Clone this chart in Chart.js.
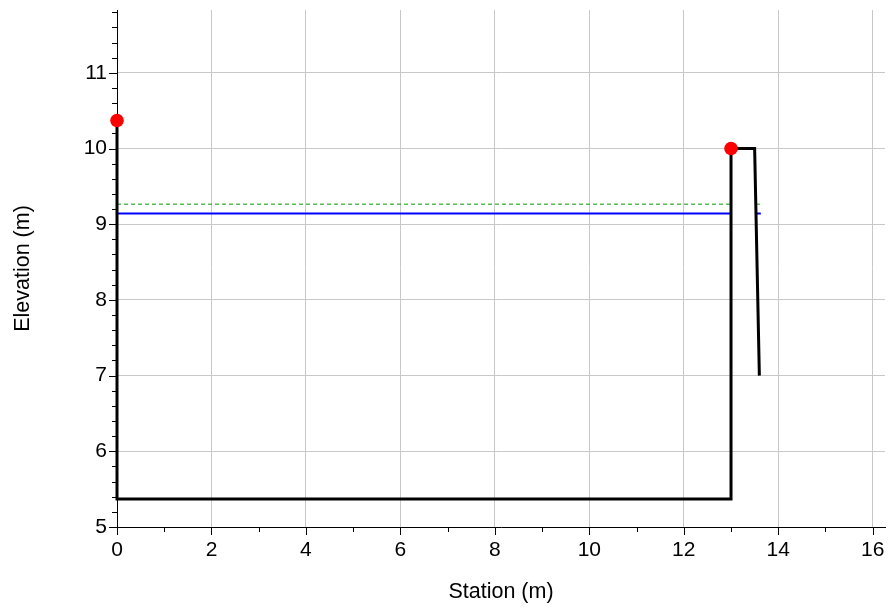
<!DOCTYPE html>
<html>
<head>
<meta charset="utf-8">
<script src="https://cdn.jsdelivr.net/npm/chart.js@4/dist/chart.umd.min.js"></script>
<style>
  html, body { margin: 0; padding: 0; background: #ffffff; }
  #wrap { width: 888px; height: 609px; }
</style>
</head>
<body>
<div id="wrap"><canvas id="c" width="888" height="609"></canvas></div>
<script>
// ---- Data ----
const groundStation = [0, 0, 13, 13, 13.5, 13.6];
const groundElev    = [10.37, 5.37, 5.37, 10.0, 10.0, 7.0];
const bankStation   = [0, 13];
const bankElev      = [10.37, 10.0];
const wsStation     = [0, 13, null, 13.53, 13.63];
const wsElev        = [9.14, 9.14, null, 9.14, 9.14];
const egStation     = [0, 13, null, 13.53, 13.61];
const egElev        = [9.265, 9.265, null, 9.265, 9.265];
const xTickValues   = [0, 2, 4, 6, 8, 10, 12, 14, 16];
const yTickValues   = [5, 6, 7, 8, 9, 10, 11];
const xTitle = 'Station (m)';
const yTitle = 'Elevation (m)';

function pts(xs, ys) {
  return xs.map((x, i) => ({ x: x, y: ys[i] }));
}
function gapPts(xs, ys) {
  const out = [];
  xs.forEach((x, i) => {
    if (x === null) { out.push({ x: (xs[i - 1] + xs[i + 1]) / 2, y: null }); }
    else out.push({ x: x, y: ys[i] });
  });
  return out;
}

const X_MIN = 0, X_MAX = 16.26, Y_MIN = 5, Y_MAX = 11.83;

Chart.defaults.font.family = '"Liberation Sans", Arial, Helvetica, sans-serif';
Chart.defaults.color = '#000000';

const tickPlugin = {
  id: 'axisTicks',
  beforeDatasetsDraw(chart) {
    const ctx = chart.ctx;
    const xs = chart.scales.x, ys = chart.scales.y;
    const area = chart.chartArea;
    ctx.save();
    ctx.strokeStyle = '#000000';
    ctx.lineWidth = 1;
    ctx.beginPath();
    for (let k = Math.round(Y_MIN * 5); k <= Math.floor(Y_MAX * 5 + 1e-6); k++) {
      const v = k / 5;
      const py = Math.round(ys.getPixelForValue(v)) + 0.5;
      const major = (k % 5 === 0);
      const len = major ? 8 : 5;
      ctx.moveTo(area.left, py);
      ctx.lineTo(area.left - len, py);
    }
    for (let v = X_MIN; v <= X_MAX; v += 1) {
      const px = Math.round(xs.getPixelForValue(v)) + 0.5;
      const major = (v % 2 === 0);
      const len = major ? 8 : 5;
      ctx.moveTo(px, area.bottom);
      ctx.lineTo(px, area.bottom + len);
    }
    ctx.stroke();
    ctx.restore();
  }
};

new Chart(document.getElementById('c'), {
  type: 'scatter',
  data: {
    datasets: [
      {
        label: 'Bank stations',
        data: pts(bankStation, bankElev),
        showLine: false,
        clip: false,
        pointRadius: 6.8,
        pointBackgroundColor: '#ff0000',
        pointBorderColor: '#ff0000',
        pointBorderWidth: 0
      },
      {
        label: 'Ground',
        data: pts(groundStation, groundElev),
        showLine: true,
        clip: false,
        borderColor: '#000000',
        borderWidth: 3,
        pointRadius: 0,
        fill: false,
        tension: 0
      },
      {
        label: 'WS',
        data: gapPts(wsStation, wsElev),
        showLine: true,
        spanGaps: false,
        borderColor: '#0000ff',
        borderWidth: 2,
        pointRadius: 0,
        fill: false
      },
      {
        label: 'EG',
        data: gapPts(egStation, egElev),
        showLine: true,
        spanGaps: false,
        borderColor: '#009900',
        borderWidth: 1,
        borderDash: [4, 3],
        pointRadius: 0,
        fill: false
      }
    ]
  },
  options: {
    responsive: false,
    animation: false,
    events: [],
    layout: { autoPadding: false, padding: { top: 10, right: 3, left: 0, bottom: 0 } },
    plugins: {
      legend: { display: false },
      tooltip: { enabled: false },
      title: { display: false }
    },
    scales: {
      x: {
        type: 'linear',
        min: X_MIN,
        max: X_MAX,
        afterFit(scale) { scale.height = 82; scale.paddingLeft = 0; scale.paddingRight = 0; },
        afterBuildTicks(scale) { scale.ticks = xTickValues.map(v => ({ value: v })); },
        ticks: {
          includeBounds: false,
          padding: 11,
          maxRotation: 0,
          autoSkip: false,
          font: { size: 21 },
          color: '#000000',
          callback: (v) => String(v)
        },
        grid: {
          drawTicks: false,
          color: (c) => (c.tick && c.tick.value === 0) ? 'rgba(0,0,0,0)' : '#c8c8c8',
          lineWidth: 1
        },
        border: { display: true, color: '#000000', width: 1 },
        title: {
          display: true,
          text: xTitle,
          font: { size: 21.5 },
          color: '#000000',
          padding: 4
        }
      },
      y: {
        type: 'linear',
        min: Y_MIN,
        max: Y_MAX,
        afterFit(scale) { scale.width = 117; scale.paddingTop = 0; scale.paddingBottom = 0; },
        afterBuildTicks(scale) { scale.ticks = yTickValues.map(v => ({ value: v })); },
        ticks: {
          includeBounds: false,
          padding: 10,
          autoSkip: false,
          font: { size: 21 },
          color: '#000000',
          callback: (v) => String(v)
        },
        grid: {
          drawTicks: false,
          color: '#c8c8c8',
          lineWidth: 1
        },
        border: { display: true, color: '#000000', width: 1 },
        title: {
          display: true,
          text: yTitle,
          font: { size: 21.5 },
          color: '#000000',
          padding: 10
        }
      }
    }
  },
  plugins: [tickPlugin]
});
</script>
</body>
</html>
